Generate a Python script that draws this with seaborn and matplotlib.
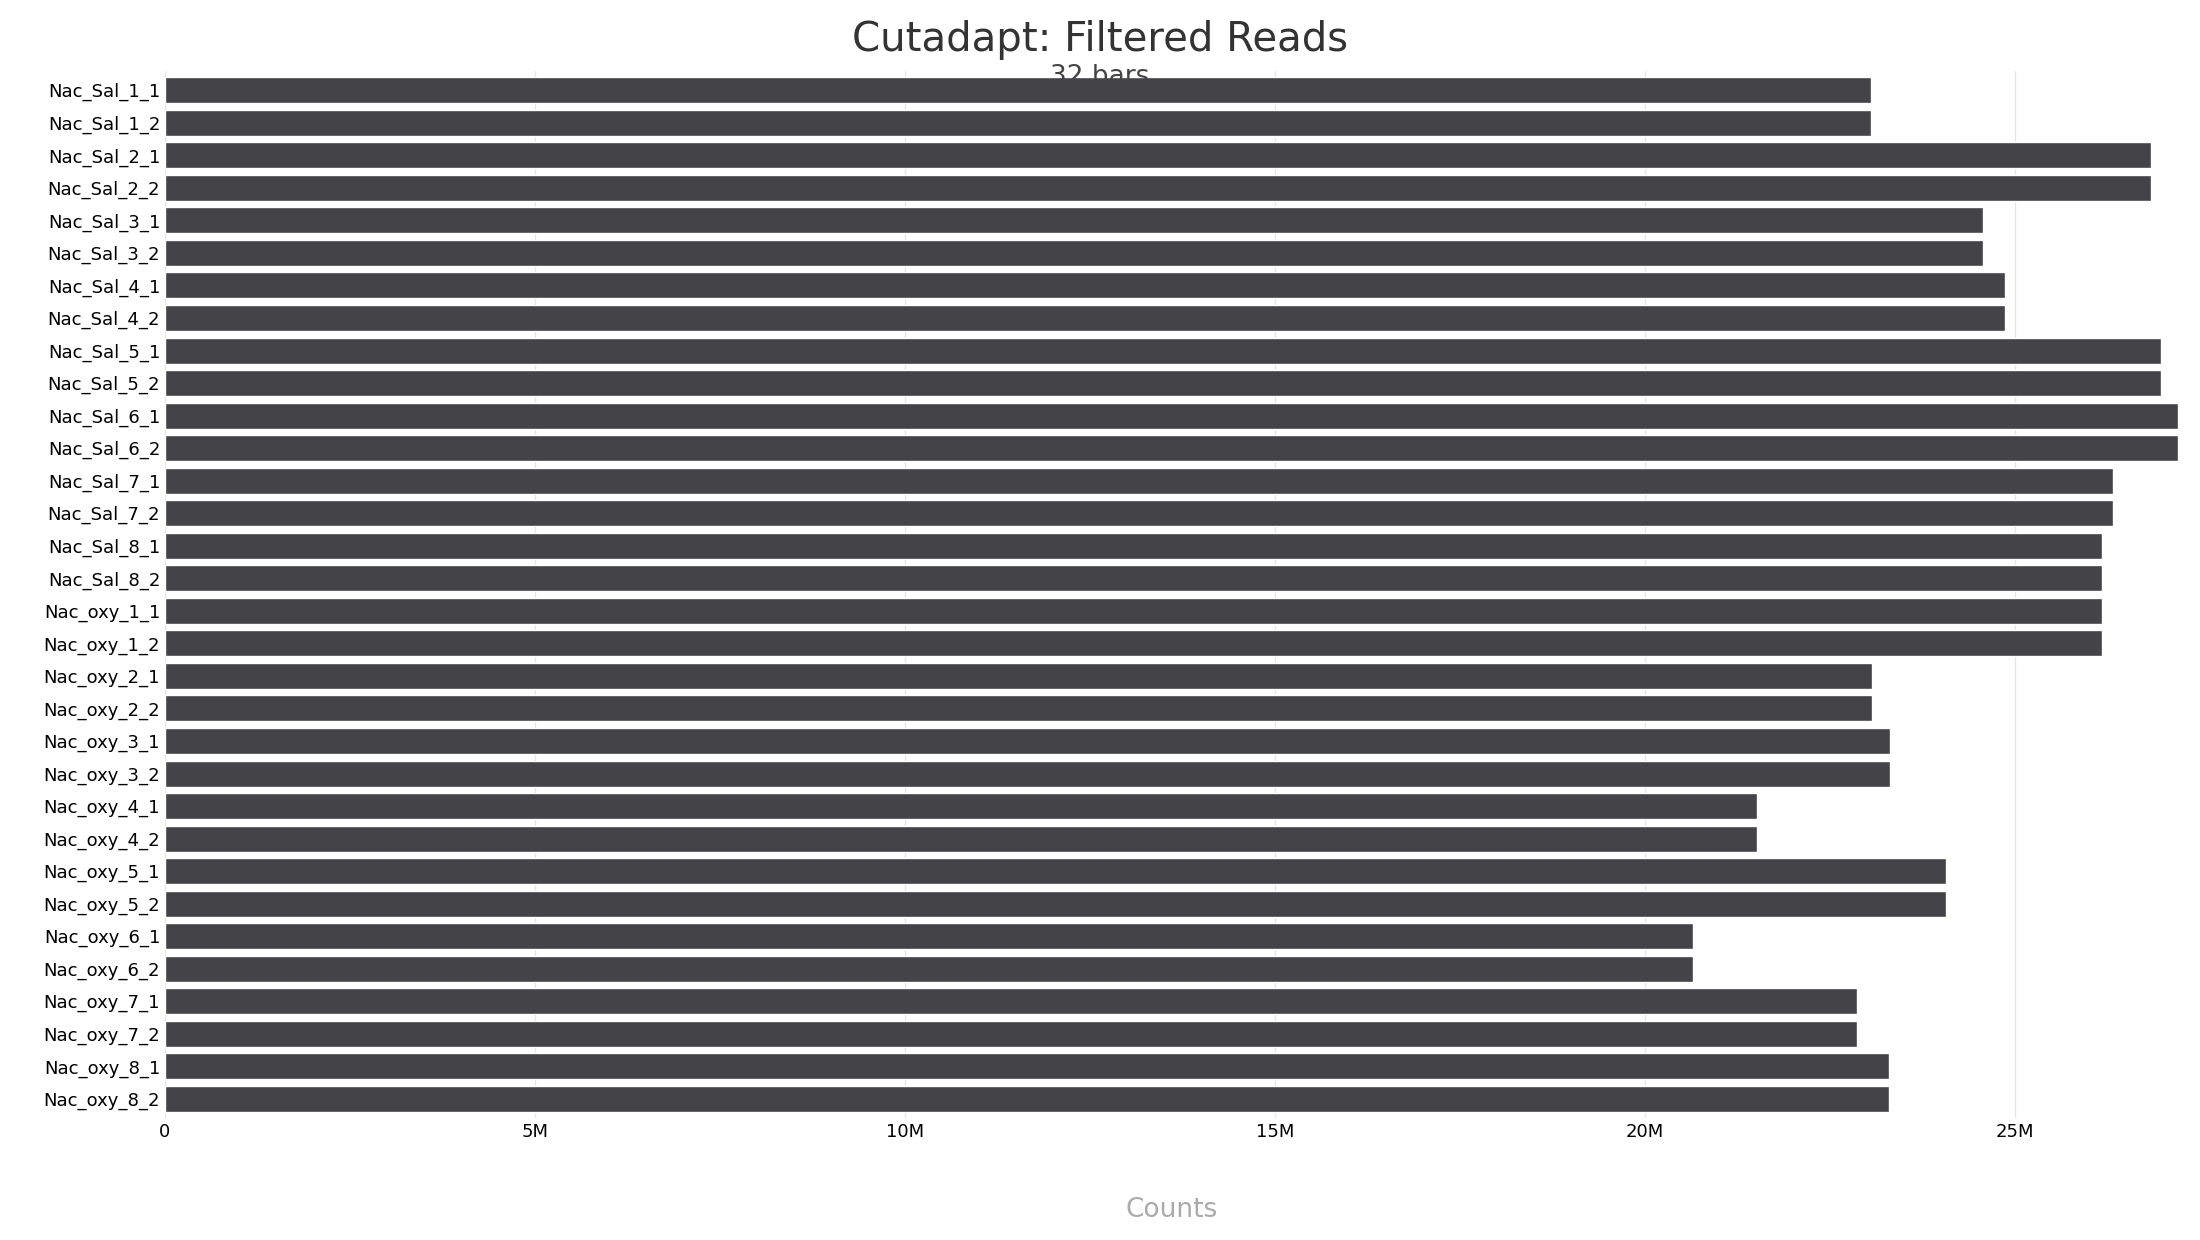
import matplotlib
matplotlib.use("Agg")
import matplotlib.pyplot as plt
import seaborn as sns
import pandas as pd
from matplotlib.ticker import FuncFormatter

samples = [f"Nac_Sal_{i}_{j}" for i in range(1, 9) for j in (1, 2)] + \
          [f"Nac_oxy_{i}_{j}" for i in range(1, 9) for j in (1, 2)]
pair_values = [23.06, 26.85, 24.58, 24.87, 26.98, 27.21, 26.33, 26.18,
               26.18, 23.08, 23.32, 21.52, 24.07, 20.66, 22.87, 23.31]
values = [v * 1e6 for v in pair_values for _ in (0, 1)]

df = pd.DataFrame({"sample": samples, "count": values})

sns.set_theme(style="white")
plt.rcParams['font.family'] = ['DejaVu Sans']
fig = plt.figure(figsize=(22, 12.4), dpi=100)
ax = fig.add_axes([0.075, 0.098, 0.915, 0.845])
sns.barplot(data=df, y="sample", x="count", color="#434348", saturation=1,
            width=0.8, ax=ax, orient="h")
ax.set_xlim(0, max(values))
ax.set_ylim(31.6, -0.6)
ax.xaxis.set_major_formatter(FuncFormatter(lambda v, p: "0" if v == 0 else f"{v/1e6:.0f}M"))
ax.set_xticks([0, 5e6, 10e6, 15e6, 20e6, 25e6])
ax.grid(axis="x", color="#e6e6e6", linewidth=1)
ax.set_axisbelow(True)
for s in ax.spines.values():
    s.set_visible(False)
ax.tick_params(axis="both", labelsize=13, colors="black", length=0)
ax.set_ylabel("")
ax.set_xlabel("Counts", fontsize=19, color="#aaaaaa", labelpad=40)
fig.text(0.5, 0.968, "Cutadapt: Filtered Reads", ha="center", va="center", fontsize=29, color="#333333")
fig.text(0.5, 0.938, "32 bars", ha="center", va="center", fontsize=19, color="#444444")
fig.savefig("out.png", dpi=100)
